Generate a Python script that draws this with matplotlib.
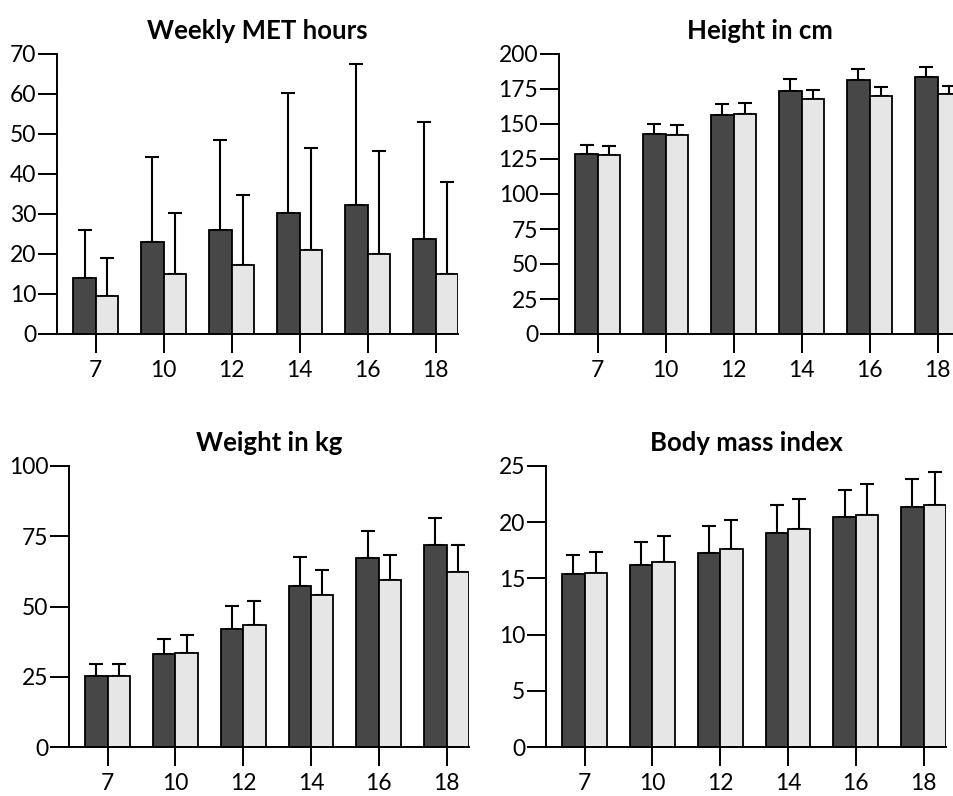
import matplotlib.pyplot as plt
import numpy as np

plt.rcParams['font.family'] = ['Lato', 'DejaVu Sans']

ages = ['7', '10', '12', '14', '16', '18']

# means and upper SD (group 1 dark, group 2 light)
met_dark = [14.0, 23.0, 26.1, 30.3, 32.3, 23.7]
met_dark_sd = [12.1, 21.2, 22.4, 30.0, 35.1, 29.3]
met_light = [9.6, 15.1, 17.3, 21.1, 20.1, 14.9]
met_light_sd = [9.5, 15.2, 17.5, 25.4, 25.6, 23.2]

height_dark = [128.7, 142.9, 156.2, 173.4, 181.5, 183.8]
height_dark_sd = [6.4, 6.9, 8.1, 8.8, 7.8, 6.9]
height_light = [128.2, 142.4, 157.2, 167.7, 170.0, 171.2]
height_light_sd = [5.9, 6.9, 7.8, 6.4, 6.5, 6.2]

weight_dark = [25.4, 33.0, 42.0, 57.3, 67.1, 71.8]
weight_dark_sd = [4.1, 5.4, 8.2, 10.4, 9.6, 9.6]
weight_light = [25.1, 33.5, 43.4, 54.2, 59.4, 62.4]
weight_light_sd = [4.4, 6.4, 8.4, 8.9, 8.9, 9.6]

bmi_dark = [15.39, 16.19, 17.26, 19.01, 20.43, 21.32]
bmi_dark_sd = [1.69, 2.05, 2.40, 2.52, 2.43, 2.49]
bmi_light = [15.45, 16.46, 17.62, 19.39, 20.64, 21.50]
bmi_light_sd = [1.87, 2.34, 2.58, 2.70, 2.76, 2.97]

panels = [
    ("Weekly MET hours", met_dark, met_dark_sd, met_light, met_light_sd, 70, 10,
     [57, 54, 458, 334]),
    ("Height in cm", height_dark, height_dark_sd, height_light, height_light_sd, 200, 25,
     [559, 54, 960, 334]),
    ("Weight in kg", weight_dark, weight_dark_sd, weight_light, weight_light_sd, 100, 25,
     [69, 466, 469, 747]),
    ("Body mass index", bmi_dark, bmi_dark_sd, bmi_light, bmi_light_sd, 25, 5,
     [546, 466, 946, 747]),
]

W, H = 954, 796
fig = plt.figure(figsize=(W / 100, H / 100), dpi=100)

bw = 0.33
x = np.arange(len(ages))
for title, d, dsd, l, lsd, ymax, step, box in panels:
    x0, y0, x1, y1 = box
    ax = fig.add_axes([x0 / W, 1 - y1 / H, (x1 - x0) / W, (y1 - y0) / H])
    ax.bar(x, d, width=-bw, align='edge', color='#474747', edgecolor='black', linewidth=1.3, zorder=2)
    ax.bar(x, l, width=bw, align='edge', color='#e6e6e6', edgecolor='black', linewidth=1.3, zorder=2)
    ax.errorbar(x - bw / 2, d, yerr=[np.zeros(len(d)), dsd], fmt='none', ecolor='black',
                elinewidth=1.5, capsize=5, capthick=1.5, zorder=1)
    ax.errorbar(x + bw / 2, l, yerr=[np.zeros(len(l)), lsd], fmt='none', ecolor='black',
                elinewidth=1.5, capsize=5, capthick=1.5, zorder=1)
    ax.set_xlim(-0.57, 5.33)
    ax.set_ylim(0, ymax)
    ax.set_yticks(np.arange(0, ymax + 1, step))
    ax.set_xticks(x)
    ax.set_xticklabels(ages)
    for s in ['top', 'right']:
        ax.spines[s].set_visible(False)
    for s in ['left', 'bottom']:
        ax.spines[s].set_linewidth(1.4)
    ax.tick_params(axis='both', direction='out', length=14, width=1.4, labelsize=16.5)
    ax.tick_params(axis='y', pad=1)
    ax.tick_params(axis='x', pad=5)
    ax.set_title(title, fontsize=18.5, fontweight='bold', pad=11)

fig.savefig('out.png', dpi=100)
